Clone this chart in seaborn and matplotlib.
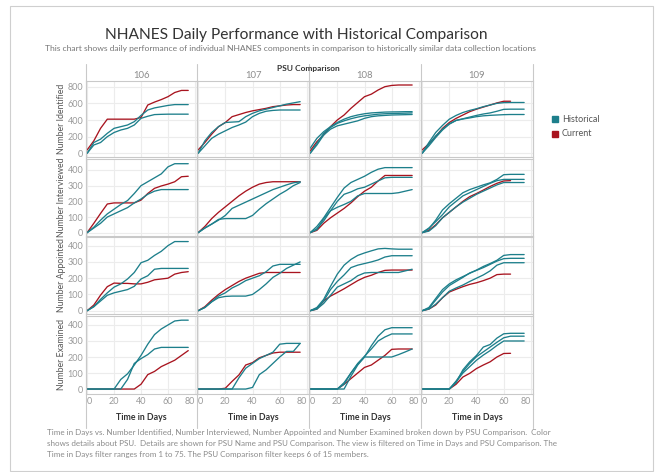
import numpy as np
import pandas as pd
import matplotlib
matplotlib.use("Agg")
import matplotlib.pyplot as plt
import seaborn as sns
from matplotlib.patches import Rectangle
from matplotlib.lines import Line2D

# ---------------- data ----------------
days = [0, 5, 10, 15, 20, 25, 30, 35, 40, 45, 50, 55, 60, 65, 70, 75]
psus = ["106", "107", "108", "109"]
measures = ["Number Identified", "Number Interviewed", "Number Appointed", "Number Examined"]
legend_labels = ["Historical", "Current"]
nan = np.nan

# Number Identified
identified_106 = {
    "Current": [40, 150, 300, 410, 410, 410, 410, 410, 430, 580, 615, 645, 680, 730, 755, 755],
    "H1": [0, 130, 170, 240, 300, 320, 340, 380, 455, 520, 545, 560, 575, 585, 585, 585],
    "H2": [0, 100, 130, 200, 250, 280, 300, 340, 420, 445, 465, 468, 470, 470, 470, 470],
}
identified_107 = {
    "Current": [40, 130, 230, 320, 370, 440, 465, 490, 510, 525, 540, 560, 570, 580, 585, 585],
    "H1": [0, 150, 250, 320, 370, 375, 380, 440, 480, 510, 530, 550, 570, 590, 605, 620],
    "H2": [0, 90, 180, 230, 270, 310, 340, 375, 440, 480, 505, 515, 520, 520, 520, 520],
}
identified_108 = {
    "Current": [28, 140, 220, 320, 400, 460, 540, 610, 680, 710, 760, 800, 815, 820, 820, 820],
    "H1": [60, 180, 260, 320, 370, 410, 440, 460, 475, 485, 490, 495, 497, 498, 500, 500],
    "H2": [0, 120, 240, 310, 360, 390, 415, 435, 450, 460, 470, 475, 478, 480, 482, 485],
    "H3": [0, 100, 220, 290, 330, 350, 370, 390, 420, 440, 450, 455, 460, 462, 464, 466],
}
identified_109 = {
    "Current": [40, 115, 200, 300, 370, 420, 460, 500, 530, 555, 580, 605, 625, 625, nan, nan],
    "H1": [0, 130, 250, 335, 410, 455, 490, 515, 535, 560, 580, 600, 608, 610, 610, 610],
    "H2": [0, 110, 210, 290, 355, 395, 415, 435, 455, 472, 485, 505, 528, 530, 530, 530],
    "H3": [0, 90, 190, 280, 350, 395, 412, 425, 440, 450, 456, 460, 464, 466, 466, 466],
}

# Number Interviewed
interviewed_106 = {
    "Current": [0, 60, 123, 183, 190, 190, 190, 190, 208, 250, 283, 298, 310, 325, 357, 360],
    "H1": [0, 35, 80, 120, 150, 180, 205, 250, 300, 325, 350, 375, 420, 440, 440, 440],
    "H2": [0, 30, 60, 100, 120, 140, 160, 190, 215, 245, 265, 275, 275, 275, 275, 275],
}
interviewed_107 = {
    "Current": [0, 40, 90, 130, 165, 200, 235, 265, 290, 310, 320, 325, 325, 325, 325, 325],
    "H1": [0, 30, 55, 80, 110, 155, 175, 195, 215, 235, 255, 275, 290, 305, 318, 325],
    "H2": [0, 30, 55, 85, 90, 90, 90, 90, 110, 150, 185, 215, 245, 270, 300, 320],
}
interviewed_108 = {
    "Current": [0, 15, 60, 95, 125, 155, 190, 230, 265, 290, 330, 365, 365, 365, 365, 365],
    "H1": [0, 40, 95, 160, 225, 285, 320, 340, 360, 385, 405, 415, 415, 415, 415, 415],
    "H2": [0, 25, 75, 140, 200, 245, 260, 280, 290, 310, 330, 350, 353, 353, 353, 353],
    "H3": [0, 20, 90, 140, 162, 180, 200, 235, 250, 250, 250, 250, 250, 255, 265, 275],
}
interviewed_109 = {
    "Current": [0, 15, 50, 95, 130, 165, 200, 230, 250, 272, 295, 315, 330, 332, nan, nan],
    "H1": [0, 25, 80, 145, 185, 220, 255, 275, 290, 305, 318, 340, 370, 372, 372, 372],
    "H2": [0, 30, 70, 115, 165, 200, 235, 255, 275, 295, 315, 332, 340, 340, 340, 340],
    "H3": [0, 10, 45, 95, 130, 165, 195, 220, 245, 265, 285, 305, 320, 320, 320, 320],
}

# Number Appointed
appointed_106 = {
    "Current": [0, 35, 96, 148, 170, 168, 168, 165, 165, 175, 190, 195, 200, 225, 235, 240],
    "H1": [0, 25, 70, 110, 145, 165, 195, 235, 295, 310, 340, 365, 400, 425, 425, 425],
    "H2": [0, 25, 60, 95, 110, 120, 130, 150, 195, 215, 255, 260, 260, 260, 260, 260],
}
appointed_107 = {
    "Current": [0, 25, 65, 100, 130, 155, 180, 200, 215, 230, 235, 235, 235, 235, 235, 235],
    "H1": [0, 20, 55, 90, 110, 140, 160, 185, 200, 215, 240, 275, 285, 285, 285, 285],
    "H2": [0, 20, 55, 80, 88, 90, 90, 90, 100, 130, 165, 205, 230, 260, 280, 300],
}
appointed_108 = {
    "Current": [0, 10, 60, 90, 112, 135, 160, 185, 205, 218, 235, 248, 250, 250, 250, 250],
    "H1": [0, 20, 70, 150, 225, 280, 315, 340, 355, 368, 380, 383, 380, 378, 378, 378],
    "H2": [0, 15, 60, 130, 180, 220, 265, 280, 290, 300, 312, 330, 338, 338, 338, 338],
    "H3": [0, 10, 45, 95, 145, 165, 185, 215, 232, 235, 235, 235, 235, 235, 245, 255],
}
appointed_109 = {
    "Current": [0, 10, 35, 80, 115, 132, 148, 162, 172, 185, 200, 222, 225, 225, nan, nan],
    "H1": [0, 20, 75, 130, 165, 190, 210, 230, 250, 272, 290, 310, 340, 345, 345, 345],
    "H2": [0, 15, 65, 115, 155, 180, 205, 232, 248, 265, 285, 305, 320, 322, 322, 322],
    "H3": [0, 10, 40, 80, 120, 140, 158, 180, 200, 220, 245, 280, 295, 295, 295, 295],
}

# Number Examined
examined_106 = {
    "Current": [0, 0, 0, 0, 0, 0, 0, 0, 30, 90, 110, 140, 160, 180, 210, 240],
    "H1": [0, 0, 0, 0, 0, 60, 95, 150, 210, 280, 340, 375, 400, 425, 430, 430],
    "H2": [0, 0, 0, 0, 0, 0, 60, 160, 190, 215, 250, 260, 260, 260, 260, 260],
}
examined_107 = {
    "Current": [0, 0, 0, 0, 5, 48, 88, 150, 165, 195, 210, 225, 230, 230, 230, 230],
    "H1": [0, 0, 0, 0, 0, 0, 70, 130, 160, 190, 210, 230, 280, 285, 285, 285],
    "H2": [0, 0, 0, 0, 0, 0, 0, 0, 10, 90, 120, 160, 200, 235, 235, 285],
}
examined_108 = {
    "Current": [0, 0, 0, 0, 0, 30, 65, 100, 135, 150, 180, 210, 248, 250, 250, 250],
    "H1": [0, 0, 0, 0, 0, 40, 100, 155, 200, 270, 330, 370, 383, 383, 383, 383],
    "H2": [0, 0, 0, 0, 0, 30, 100, 160, 205, 250, 300, 325, 344, 344, 344, 344],
    "H3": [0, 0, 0, 0, 0, 0, 80, 150, 200, 200, 200, 200, 200, 215, 232, 250],
}
examined_109 = {
    "Current": [0, 0, 0, 0, 0, 30, 75, 98, 128, 150, 170, 200, 222, 223, nan, nan],
    "H1": [0, 0, 0, 0, 0, 40, 120, 170, 210, 262, 278, 318, 345, 348, 348, 348],
    "H2": [0, 0, 0, 0, 0, 50, 110, 160, 202, 232, 262, 292, 320, 330, 330, 330],
    "H3": [0, 0, 0, 0, 0, 45, 100, 140, 180, 212, 240, 272, 300, 300, 300, 300],
}

panels = {
    "Number Identified": [identified_106, identified_107, identified_108, identified_109],
    "Number Interviewed": [interviewed_106, interviewed_107, interviewed_108, interviewed_109],
    "Number Appointed": [appointed_106, appointed_107, appointed_108, appointed_109],
    "Number Examined": [examined_106, examined_107, examined_108, examined_109],
}

rows = []
for m in measures:
    for p, series in zip(psus, panels[m]):
        for name, vals in series.items():
            kind = "Current" if name == "Current" else "Historical"
            for d, v in zip(days, vals):
                rows.append({"measure": m, "psu": p, "line": name, "kind": kind,
                             "day": d, "value": v})
df = pd.DataFrame(rows).dropna()

# ---------------- style ----------------
sns.set_theme(style="white")
plt.rcParams["font.family"] = ["Lato", "DejaVu Sans"]

TEAL = "#1d7f8b"
RED = "#a8141f"
GRID = "#ececec"
SEP = "#c9c9c9"
TXT = "#555555"
palette = {"Historical": TEAL, "Current": RED}

W, H = 661, 472
fig = plt.figure(figsize=(W / 100, H / 100), dpi=100)

def fx(x):
    return x / W

def fy(y):
    return 1 - y / H

col_edges = [86, 197, 309, 421, 533]
row_spans = [(81, 157), (159, 236), (237, 314), (316, 394)]
ylims = [(-44, 868), (-21, 470), (-20, 453), (-31, 456)]
yticks = [[0, 200, 400, 600, 800], [0, 100, 200, 300, 400],
          [0, 100, 200, 300, 400], [0, 100, 200, 300, 400]]
xticks = [0, 20, 40, 60, 80]

for ri, m in enumerate(measures):
    top, bot = row_spans[ri]
    for ci, p in enumerate(psus):
        l, r = col_edges[ci], col_edges[ci + 1]
        ax = fig.add_axes([fx(l), fy(bot), fx(r - l), (bot - top) / H])
        sub = df[(df.measure == m) & (df.psu == p)]
        sns.lineplot(data=sub, x="day", y="value", hue="kind", units="line",
                     estimator=None, palette=palette, legend=False, ax=ax,
                     linewidth=0.95, sort=True)
        ax.set_xlim(-0.8, 81.5)
        ax.set_ylim(*ylims[ri])
        ax.set_xticks(xticks)
        ax.set_yticks(yticks[ri])
        ax.grid(True, color=GRID, linewidth=0.8)
        ax.set_axisbelow(True)
        ax.set_xlabel("")
        ax.set_ylabel("")
        ax.tick_params(length=0, labelsize=6.5, labelcolor="#9a9a9a", pad=2)
        if ci != 0:
            ax.set_yticklabels([])
        if ri != 3:
            ax.set_xticklabels([])
        else:
            labs = ax.set_xticklabels([str(t) for t in xticks])
            labs[0].set_horizontalalignment("left")
            labs[-1].set_horizontalalignment("right")
        for s in ax.spines.values():
            s.set_color(SEP)
            s.set_linewidth(0.8)
        ax.patch.set_alpha(0)

    fig.text(fx(61), fy((top + bot) / 2), m, rotation=90, ha="center",
             va="center", fontsize=6.3, color=TXT)

# column separators, headers
for x in col_edges:
    fig.add_artist(Line2D([fx(x), fx(x)], [fy(64), fy(428)], color=SEP, lw=0.8))
for ci, p in enumerate(psus):
    cx = (col_edges[ci] + col_edges[ci + 1]) / 2
    fig.text(fx(cx), fy(76), p, ha="center", va="center", fontsize=6.8, color="#8c8c8c")
    fig.text(fx(cx), fy(417), "Time in Days", ha="center", va="center",
             fontsize=6.3, color="#333333", fontweight="bold")
fig.text(fx(308), fy(69), "PSU Comparison", ha="center", va="center",
         fontsize=6.0, color="#333333", fontweight="bold")

# title/subtitle
fig.text(fx(296), fy(35), "NHANES Daily Performance with Historical Comparison",
         ha="center", va="center", fontsize=11.2, color="#333333")
fig.text(fx(290), fy(48),
         "This chart shows daily performance of individual NHANES components in comparison to historically similar data collection locations",
         ha="center", va="center", fontsize=6.1, color="#777777")

# legend
for i, (lab, c) in enumerate(zip(legend_labels, [TEAL, RED])):
    yy = 119 + 15 * i
    fig.add_artist(Rectangle((fx(552), fy(yy + 3)), fx(6), 6 / H, color=c,
                             transform=fig.transFigure))
    fig.text(fx(562), fy(yy), lab, ha="left", va="center", fontsize=6.5, color=TXT)

# caption
caption = [
    "Time in Days vs. Number Identified, Number Interviewed, Number Appointed and Number Examined broken down by PSU Comparison.  Color",
    "shows details about PSU.  Details are shown for PSU Name and PSU Comparison. The view is filtered on Time in Days and PSU Comparison. The",
    "Time in Days filter ranges from 1 to 75. The PSU Comparison filter keeps 6 of 15 members.",
]
for i, line in enumerate(caption):
    fig.text(fx(47), fy(432 + 11.5 * i), line, ha="left", va="center",
             fontsize=5.8, color="#8a8a8a")

# outer frame
fig.add_artist(Rectangle((fx(10), fy(471)), fx(643), (471 - 6) / H, fill=False,
                         edgecolor="#cfcfcf", lw=0.8, transform=fig.transFigure))

fig.savefig("out.png", dpi=100, facecolor="white")
